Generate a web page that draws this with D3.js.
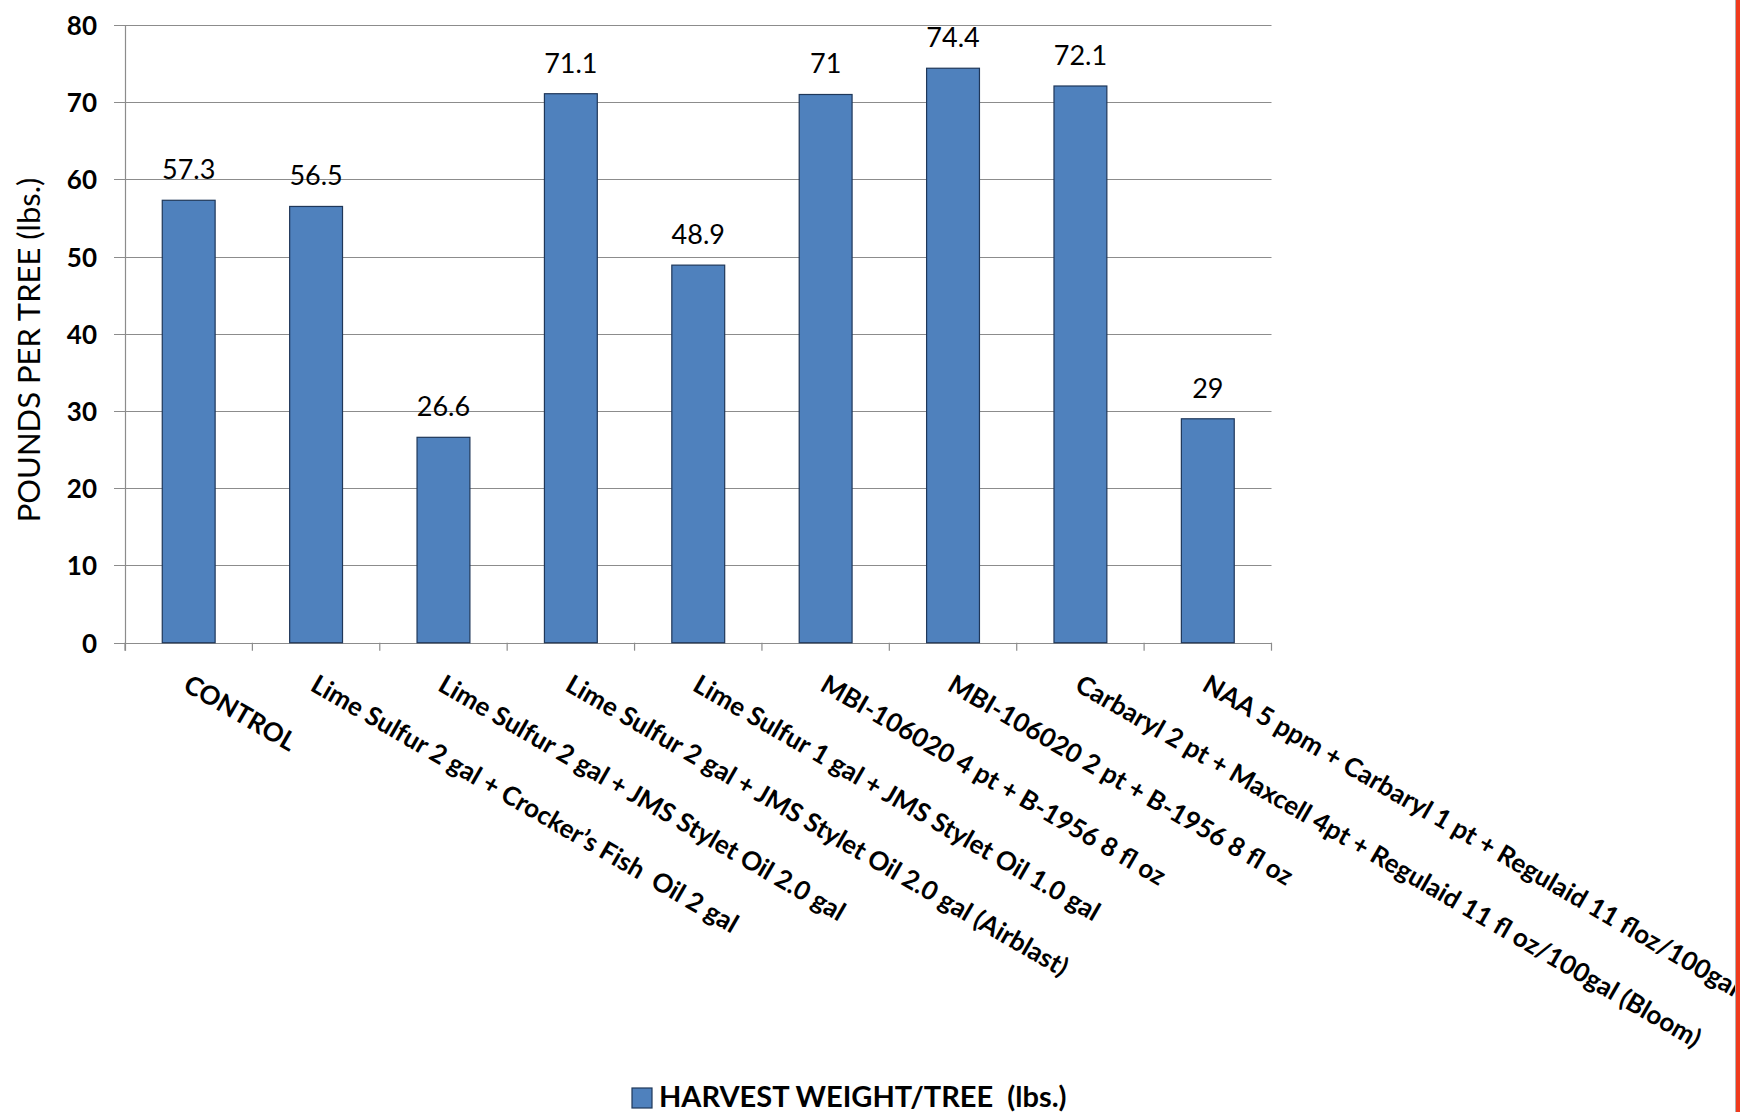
<!DOCTYPE html>
<html>
<head>
<meta charset="utf-8">
<script src="https://cdn.jsdelivr.net/npm/d3@7"></script>
<style>
  html, body { margin: 0; padding: 0; background: #fff; }
  svg { display: block; }
  text { font-family: Lato, "Open Sans", sans-serif; fill: #000; }
</style>
</head>
<body>
<svg id="chart" width="1740" height="1112"></svg>
<script>
const categories = [
  "CONTROL",
  "Lime Sulfur 2 gal + Crocker\u2019s Fish  Oil 2 gal",
  "Lime Sulfur 2 gal + JMS Stylet Oil 2.0 gal",
  "Lime Sulfur 2 gal + JMS Stylet Oil 2.0 gal (Airblast)",
  "Lime Sulfur 1 gal + JMS Stylet Oil 1.0 gal",
  "MBI-106020 4 pt + B-1956 8 fl oz",
  "MBI-106020 2 pt + B-1956 8 fl oz",
  "Carbaryl 2 pt + Maxcell 4pt + Regulaid 11 fl oz/100gal (Bloom)",
  "NAA 5 ppm + Carbaryl 1 pt + Regulaid 11 floz/100gal"
];
const values = [57.3, 56.5, 26.6, 71.1, 48.9, 71, 74.4, 72.1, 29];
const valueLabels = ["57.3", "56.5", "26.6", "71.1", "48.9", "71", "74.4", "72.1", "29"];
const yTicks = [0, 10, 20, 30, 40, 50, 60, 70, 80];
const seriesName = "HARVEST WEIGHT/TREE  (lbs.)";
const yTitle = "POUNDS PER TREE (lbs.)";

const svg = d3.select("#chart");
const plotLeft = 125, plotRight = 1271.5, plotTop = 25, plotBottom = 642.7;

const x = d3.scaleBand().domain(categories).range([plotLeft, plotRight]).padding(0);
const y = d3.scaleLinear().domain([0, 80]).range([plotBottom, plotTop]);

svg.append("defs").append("clipPath").attr("id", "frame")
  .append("rect").attr("x", 0).attr("y", 0).attr("width", 1735).attr("height", 1112);

const root = svg.append("g").attr("clip-path", "url(#frame)");

// gridlines
root.append("g").selectAll("line").data(yTicks).join("line")
  .attr("x1", plotLeft - 11).attr("x2", plotRight)
  .attr("y1", d => Math.round(y(d)) + 0.5).attr("y2", d => Math.round(y(d)) + 0.5)
  .attr("stroke", "#8c8c8c").attr("stroke-width", 1.2);

// y axis
const yAxis = d3.axisLeft(y).tickValues(yTicks).tickSize(0).tickPadding(28);
const yg = root.append("g").attr("transform", `translate(${plotLeft},0)`).call(yAxis);
yg.select(".domain").remove();
yg.selectAll("text").attr("font-size", 26).attr("font-weight", 700)
  .attr("font-family", "Lato, sans-serif").attr("fill", "#000").attr("dy", "0.36em");

root.append("line").attr("x1", plotLeft + 0.5).attr("x2", plotLeft + 0.5)
  .attr("y1", plotTop).attr("y2", plotBottom + 8).attr("stroke", "#8c8c8c").attr("stroke-width", 1.2);

// category boundary ticks
const bounds = d3.range(categories.length + 1).map(i => plotLeft + i * x.step());
root.append("g").selectAll("line").data(bounds).join("line")
  .attr("x1", d => d).attr("x2", d => d)
  .attr("y1", plotBottom).attr("y2", plotBottom + 8)
  .attr("stroke", "#8c8c8c").attr("stroke-width", 1.2);

// bars
const barW = x.bandwidth() * 0.415;
root.append("g").selectAll("rect").data(values).join("rect")
  .attr("x", (d, i) => x(categories[i]) + (x.bandwidth() - barW) / 2)
  .attr("width", barW)
  .attr("y", d => y(d))
  .attr("height", d => y(0) - y(d))
  .attr("fill", "#4f81bd")
  .attr("stroke", "#1f3759").attr("stroke-width", 1.2);

// value labels
root.append("g").selectAll("text").data(values).join("text")
  .attr("x", (d, i) => x(categories[i]) + x.bandwidth() / 2)
  .attr("y", d => y(d) - 21)
  .attr("text-anchor", "middle")
  .attr("font-size", 27)
  .text((d, i) => valueLabels[i]);

// category labels
root.append("g").selectAll("text").data(categories).join("text")
  .attr("transform", d => `translate(${x(d) + x.bandwidth() / 2 - 7},${plotBottom + 47}) rotate(30)`)
  .attr("text-anchor", "start")
  .attr("font-size", 26)
  .attr("font-weight", 700)
  .style("white-space", "pre")
  .text(d => d);

// y title
root.append("text")
  .attr("transform", `translate(${40},${350}) rotate(-90)`)
  .attr("text-anchor", "middle")
  .attr("font-size", 31)
  .text(yTitle);

// legend
const lg = root.append("g");
lg.append("rect").attr("x", 632).attr("y", 1088).attr("width", 20).attr("height", 20)
  .attr("fill", "#4f81bd").attr("stroke", "#1f3759").attr("stroke-width", 1.2);
lg.append("text").attr("x", 659).attr("y", 1107)
  .attr("font-size", 29).attr("font-weight", 700)
  .style("white-space", "pre")
  .text(seriesName);

// frame edge on the right
svg.append("rect").attr("x", 1735).attr("y", 0).attr("width", 1).attr("height", 1112).attr("fill", "#b0b0b0");
svg.append("rect").attr("x", 1736).attr("y", 0).attr("width", 4).attr("height", 1112).attr("fill", "#f03a1c");
</script>
</body>
</html>
